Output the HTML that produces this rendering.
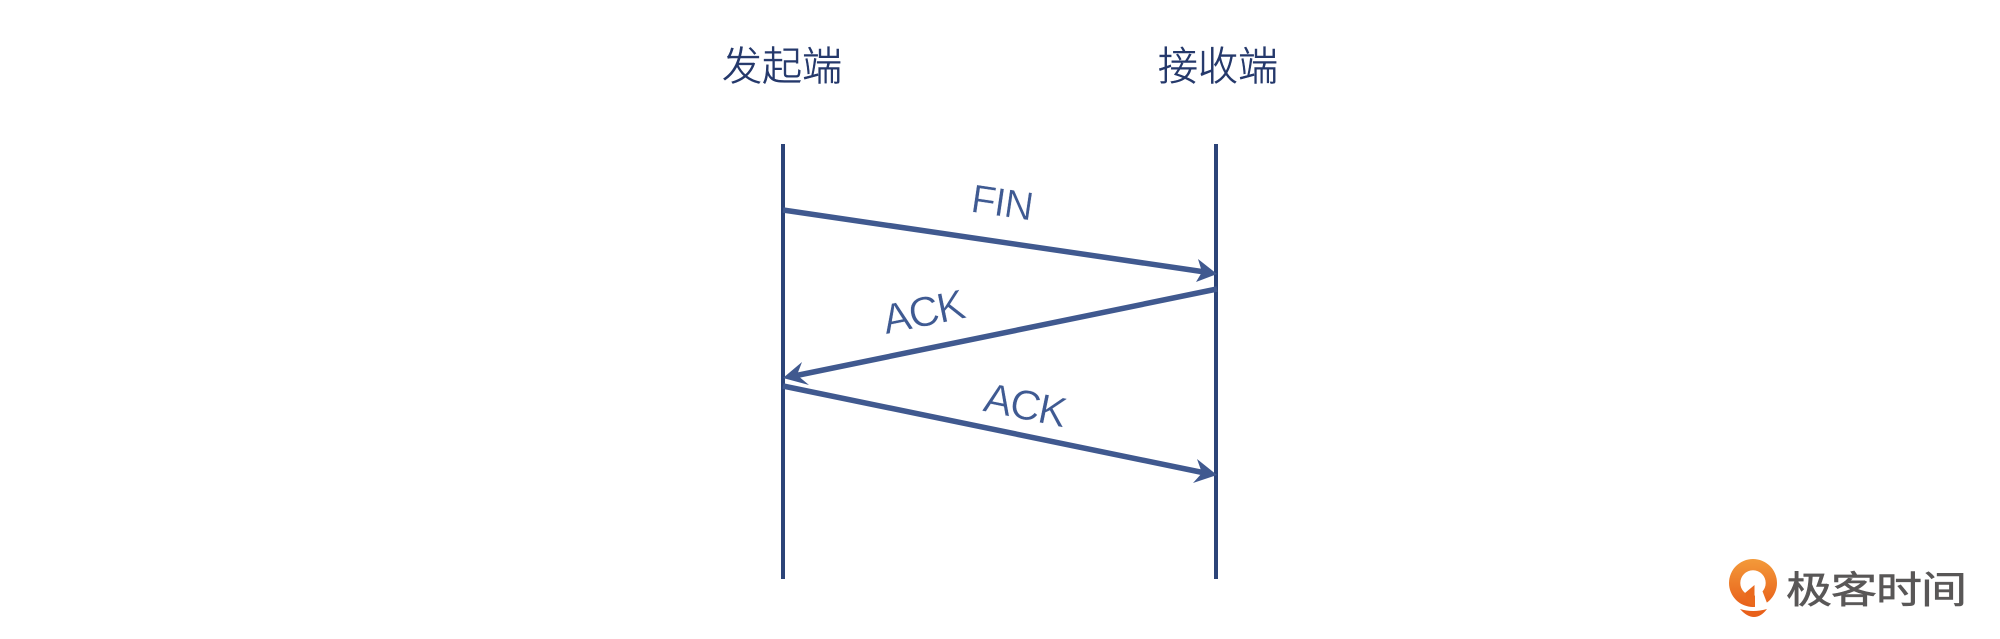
<!DOCTYPE html>
<html><head><meta charset="utf-8"><style>
html,body{margin:0;padding:0;background:#fff;width:2000px;height:639px;overflow:hidden}
svg{display:block}
.h{font-family:"Liberation Sans","Noto Sans CJK SC",sans-serif;font-size:40px;fill:#24386b;stroke:#24386b;stroke-width:.5px;text-anchor:middle;font-weight:300}
.l{font-family:"Liberation Sans",sans-serif;font-size:42px;letter-spacing:-1.5px;fill:#3f5a92;stroke:#fff;stroke-width:.4px;text-anchor:middle}
.g{font-family:"Liberation Sans","Noto Sans CJK SC",sans-serif;font-size:46px;fill:#595757;stroke:#595757;stroke-width:.7px;font-weight:400}
</style></head><body>
<svg width="2000" height="639" viewBox="0 0 2000 639" xmlns="http://www.w3.org/2000/svg">
<defs><linearGradient id="o" x1="0" y1="0" x2="0" y2="1"><stop offset="0" stop-color="#f39a3a"/><stop offset="1" stop-color="#e8601a"/></linearGradient></defs>
<text class="h" x="782" y="80">发起端</text>
<text class="h" x="1218" y="80">接收端</text>
<line x1="783" y1="144" x2="783" y2="579" stroke="#2c4478" stroke-width="4"/>
<line x1="1216" y1="144" x2="1216" y2="579" stroke="#2c4478" stroke-width="4"/>
<g fill="#40598f">
<line x1="783" y1="210" x2="1205" y2="272" stroke="#40598f" stroke-width="5.500"/>
<polygon points="1217,274 1196,282 1202,272 1198,259"/>
<line x1="1217" y1="289" x2="794" y2="376" stroke="#40598f" stroke-width="5.500"/>
<polygon points="783,378 802,362 797,375 809,385"/>
<line x1="783" y1="386" x2="1205" y2="473" stroke="#40598f" stroke-width="5.500"/>
<polygon points="1217,475 1193,483 1202,473 1197,459"/>
</g>
<text class="l" style="font-size:40px;letter-spacing:-1px" transform="translate(1000,216) rotate(8.300)">FIN</text>
<text class="l" transform="translate(926,326) rotate(-11.600)">ACK</text>
<text class="l" transform="translate(1022,419) rotate(11.600)">ACK</text>
<path fill-rule="evenodd" fill="url(#o)" d="M1753 559a24 24 0 1 1 0 48a24 24 0 1 1 0-48zM1753 570.300a12.700 12.700 0 1 0 0 25.400a12.700 12.700 0 1 0 0-25.400z"/>
<polygon fill="#fff" points="1755,585 1762,590 1767,603 1761,612 1755,612"/>
<polygon fill="#ea6a1e" points="1754.500,585 1745,593 1748,603 1754.500,607"/>
<path fill="#e8601a" d="M1740 609q13 4 27 0q-6 8-13 8t-14-8z"/>
<text class="g" transform="translate(1786,603) scale(1,.82)" textLength="181" lengthAdjust="spacing">极客时间</text>
</svg>
</body></html>
